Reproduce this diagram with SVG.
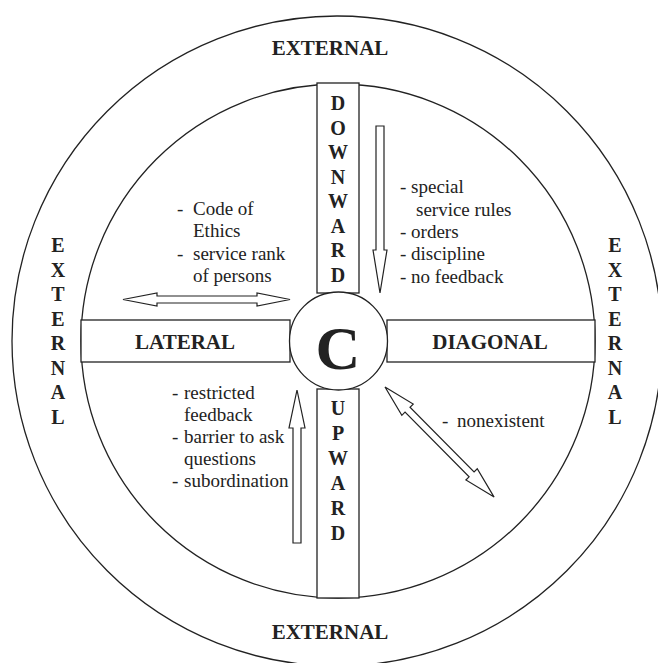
<svg xmlns="http://www.w3.org/2000/svg" width="658" height="663" viewBox="0 0 658 663">
<style>
.ln{fill:none;stroke:#222;stroke-width:1.3}
.bx{fill:#fff;stroke:#222;stroke-width:1.3}
.ar{fill:#fff;stroke:#222;stroke-width:1.2;stroke-linejoin:miter}
.lb{font-family:"Liberation Serif","Times New Roman",serif;font-weight:bold;font-size:21px;fill:#222;text-anchor:middle}
.vl{font-family:"Liberation Serif","Times New Roman",serif;font-weight:bold;font-size:20px;fill:#222;text-anchor:middle}
.tx{font-family:"Liberation Serif","Times New Roman",serif;font-size:19px;fill:#222}
</style>
<rect width="658" height="663" fill="#fff"/>
<g id="outer">
<circle class="ln" cx="337" cy="341" r="325"/>
<text class="lb" x="330" y="55">EXTERNAL</text>
<text class="lb" x="330" y="639">EXTERNAL</text>
<text class="vl"><tspan x="58" y="252">E</tspan><tspan x="58" y="277">X</tspan><tspan x="58" y="301">T</tspan><tspan x="58" y="326">E</tspan><tspan x="58" y="350">R</tspan><tspan x="58" y="375">N</tspan><tspan x="58" y="399">A</tspan><tspan x="58" y="424">L</tspan></text>
<text class="vl"><tspan x="615" y="252">E</tspan><tspan x="615" y="277">X</tspan><tspan x="615" y="301">T</tspan><tspan x="615" y="326">E</tspan><tspan x="615" y="350">R</tspan><tspan x="615" y="375">N</tspan><tspan x="615" y="399">A</tspan><tspan x="615" y="424">L</tspan></text>
</g>
<g id="inner">
<circle class="ln" cx="338" cy="341" r="257"/>
</g>
<g id="downward">
<rect class="bx" x="317" y="83" width="42" height="210"/>
<text class="vl"><tspan x="338" y="110">D</tspan><tspan x="338" y="134.5">O</tspan><tspan x="338" y="159">W</tspan><tspan x="338" y="183.5">N</tspan><tspan x="338" y="208">W</tspan><tspan x="338" y="232.5">A</tspan><tspan x="338" y="257">R</tspan><tspan x="338" y="281.5">D</tspan></text>
</g>
<g id="upward">
<rect class="bx" x="317" y="389" width="42" height="209"/>
<text class="vl"><tspan x="338" y="415">U</tspan><tspan x="338" y="440">P</tspan><tspan x="338" y="465">W</tspan><tspan x="338" y="490">A</tspan><tspan x="338" y="515">R</tspan><tspan x="338" y="540">D</tspan></text>
</g>
<g id="lateral">
<rect class="bx" x="81" y="320" width="209" height="42"/>
<text class="lb" x="185" y="349">LATERAL</text>
</g>
<g id="diagonal">
<rect class="bx" x="387" y="320" width="208" height="42"/>
<text class="lb" x="490" y="349">DIAGONAL</text>
</g>
<g id="center">
<circle class="bx" cx="338.5" cy="341" r="49"/>
<text x="338" y="369" text-anchor="middle" font-family="Liberation Serif, Times New Roman, serif" font-weight="bold" font-size="62" fill="#222">C</text>
</g>
<g id="downward-notes">
<text class="tx"><tspan x="400" y="193">- special</tspan><tspan x="416" y="215.5">service rules</tspan><tspan x="400" y="238">- orders</tspan><tspan x="400" y="260">- discipline</tspan><tspan x="400" y="282.5">- no feedback</tspan></text>
</g>
<g id="lateral-notes">
<text class="tx"><tspan x="177" y="215">-</tspan><tspan x="193" y="215">Code of</tspan><tspan x="193" y="237">Ethics</tspan><tspan x="177" y="260">-</tspan><tspan x="193" y="260">service rank</tspan><tspan x="193" y="282">of persons</tspan></text>
</g>
<g id="upward-notes">
<text class="tx"><tspan x="172" y="399">-</tspan><tspan x="184" y="399">restricted</tspan><tspan x="184" y="421">feedback</tspan><tspan x="172" y="443">-</tspan><tspan x="184" y="443">barrier to ask</tspan><tspan x="184" y="465">questions</tspan><tspan x="172" y="487">-</tspan><tspan x="184" y="487">subordination</tspan></text>
</g>
<g id="diagonal-notes">
<text class="tx"><tspan x="442" y="427">-</tspan><tspan x="457" y="427">nonexistent</tspan></text>
</g>
<g id="connectors">
<polygon class="ar" points="376,126 384,126 384,250 387,250 380,293 373,250 376,250"/>
<polygon class="ar" points="293,543 301,543 301,428 305,428 297,390 289,428 293,428"/>
<polygon class="ar" points="123,299.5 157,293 157,296 257,296 257,293 290,299.5 257,306 257,303 157,303 157,306"/>
<polygon class="ar" transform="translate(385,387) rotate(45.26)" points="0,0 32,-8 32,-3.5 123,-3.5 123,-8 155,0 123,8 123,3.5 32,3.5 32,8"/>
</g>
</svg>
